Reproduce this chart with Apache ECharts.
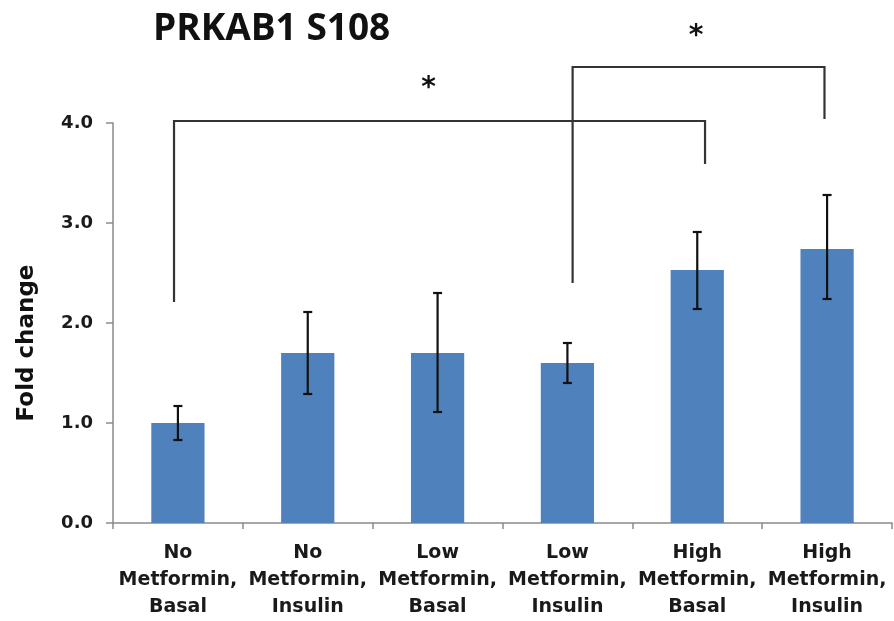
<!DOCTYPE html>
<html><head><meta charset="utf-8">
<script src="https://cdn.jsdelivr.net/npm/echarts@6/dist/echarts.min.js"></script>
<style>html,body{margin:0;padding:0;background:#fff}#c{width:894px;height:621px}</style>
</head><body><div id="c"></div>
<script>
const titleText = "PRKAB1 S108";
const yAxisName = "Fold change";
const categories = ["No\nMetformin,\nBasal", "No\nMetformin,\nInsulin", "Low\nMetformin,\nBasal", "Low\nMetformin,\nInsulin", "High\nMetformin,\nBasal", "High\nMetformin,\nInsulin"];
const foldChange = [1.00, 1.70, 1.70, 1.60, 2.53, 2.74];
const errorLow  = [0.83, 1.29, 1.11, 1.40, 2.14, 2.24];
const errorHigh = [1.17, 2.11, 2.30, 1.80, 2.91, 3.28];
const yMin = 0, yMax = 4, yStep = 1;
// significance brackets: x positions in category-index units, y in fold change units
const bracketLeftX  = [-0.03, 3.04];
const bracketRightX = [4.06, 4.98];
const bracketTopY   = [4.02, 4.56];
const bracketLeftEndY  = [2.21, 2.40];
const bracketRightEndY = [3.59, 4.04];
const starLabel = ["*", "*"];
const starX = [1.93, 3.99];
const starY = [4.38, 4.90];

const FONT = "DejaVu Sans";
const chart = echarts.init(document.getElementById('c'), null, {renderer: 'canvas'});

const errData = categories.map((c, i) => [i, errorLow[i], errorHigh[i]]);
const bracketData = bracketLeftX.map((x, i) => [x, bracketRightX[i], bracketTopY[i], bracketLeftEndY[i], bracketRightEndY[i]]);
const starData = starX.map((x, i) => [x, starY[i], starLabel[i]]);

chart.setOption({
  animation: false,
  backgroundColor: '#ffffff',
  title: {
    text: titleText, left: 148, top: 6,
    textStyle: {fontFamily: 'Open Sans', fontWeight: 'bold', fontSize: 37, color: '#111'}
  },
  grid: {left: 113, right: 2, top: 123, bottom: 98, containLabel: false},
  xAxis: [{
    type: 'category', data: categories,
    axisLine: {show: true, onZero: false, lineStyle: {color: '#8a8a8a', width: 1.5}},
    axisTick: {show: true, alignWithLabel: false, length: 6, interval: 0, lineStyle: {color: '#8a8a8a', width: 1.5}},
    axisLabel: {interval: 0, margin: 17, fontFamily: FONT, fontWeight: 'bold', fontSize: 19, lineHeight: 27, color: '#1a1a1a'}
  }, {
    type: 'value', min: -0.5, max: 5.5, show: false
  }],
  yAxis: {
    type: 'value', min: yMin, max: yMax, interval: yStep,
    name: yAxisName, nameLocation: 'middle', nameRotate: 90, nameGap: 74,
    nameTextStyle: {fontFamily: FONT, fontWeight: 'bold', fontSize: 23, color: '#111', padding: [0, 40, 0, 0]},
    axisLine: {show: true, onZero: false, lineStyle: {color: '#8a8a8a', width: 1.5}},
    axisTick: {show: true, length: 7, lineStyle: {color: '#8a8a8a', width: 1.5}},
    splitLine: {show: false},
    axisLabel: {margin: 20, formatter: v => v.toFixed(1), fontFamily: FONT, fontWeight: 'bold', fontSize: 18, color: '#1a1a1a'}
  },
  series: [{
    type: 'bar', data: foldChange, barWidth: '41%',
    itemStyle: {color: '#4f81bd'}, z: 2
  }, {
    type: 'custom', data: errData, z: 5,
    encode: {x: 0, y: [1, 2]},
    renderItem: function (params, api) {
      const i = api.value(0);
      const lo = api.coord([i, api.value(1)]);
      const hi = api.coord([i, api.value(2)]);
      const w = 4.5;
      const st = {stroke: '#111', lineWidth: 2.2};
      return {type: 'group', children: [
        {type: 'line', shape: {x1: lo[0], y1: lo[1], x2: hi[0], y2: hi[1]}, style: st},
        {type: 'line', shape: {x1: lo[0] - w, y1: lo[1], x2: lo[0] + w, y2: lo[1]}, style: st},
        {type: 'line', shape: {x1: hi[0] - w, y1: hi[1], x2: hi[0] + w, y2: hi[1]}, style: st}
      ]};
    }
  }, {
    type: 'custom', xAxisIndex: 1, data: bracketData, z: 6, clip: false,
    renderItem: function (params, api) {
      const x1 = api.value(0), x2 = api.value(1), top = api.value(2), l = api.value(3), r = api.value(4);
      const pts = [api.coord([x1, l]), api.coord([x1, top]), api.coord([x2, top]), api.coord([x2, r])];
      return {type: 'polyline', shape: {points: pts}, style: {stroke: '#333', lineWidth: 2.2, fill: null}};
    }
  }, {
    type: 'custom', xAxisIndex: 1, data: starData, z: 7, clip: false,
    renderItem: function (params, api) {
      const p = api.coord([api.value(0), api.value(1)]);
      return {type: 'text', x: p[0], y: p[1] + 4, style: {text: starLabel[params.dataIndex], fontFamily: FONT, fontWeight: 'bold', fontSize: 28, fill: '#111', align: 'center', verticalAlign: 'middle'}};
    }
  }]
});
</script>
</body></html>
